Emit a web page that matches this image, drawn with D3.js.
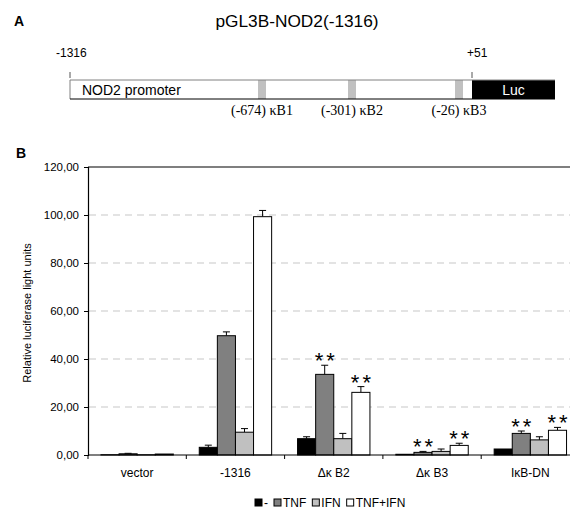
<!DOCTYPE html>
<html>
<head>
<meta charset="utf-8">
<script src="https://cdn.jsdelivr.net/npm/d3@7"></script>
<style>
    body { margin: 0; background: #fff; }
    text { font-family: "Liberation Sans", Arial, sans-serif; fill: #000; }
    .serif { font-family: "Liberation Serif", "Times New Roman", serif; }
</style>
</head>
<body>
<svg id="svg"></svg>
<script>
// Panel B data (relative luciferase light units)
const categories = ["vector", "-1316", "Δκ B2", "Δκ B3", "IκB-DN"];
const treatments = ["-", "TNF", "IFN", "TNF+IFN"];
const valNone = [0.1, 3.2, 6.8, 0.3, 2.5];
const errNone = [0, 0.9, 0.8, 0, 0];
const valTNF = [0.5, 49.7, 33.6, 1.1, 9.0];
const errTNF = [0.2, 1.6, 3.8, 0.4, 1.0];
const valIFN = [0.1, 9.5, 6.8, 1.5, 6.3];
const errIFN = [0, 1.5, 2.2, 1.0, 1.3];
const valBoth = [0.4, 99.3, 26.1, 4.0, 10.3];
const errBoth = [0, 2.6, 2.4, 0.9, 1.2];
// bars marked with ** : [category index, treatment index]
const starred = [[2, 1], [2, 3], [3, 1], [3, 3], [4, 1], [4, 3]];
const yTicks = [0, 20, 40, 60, 80, 100, 120];

// Panel A construct
const constructStart = -1316, constructEnd = 51;
const siteNames = ["κB1", "κB2", "κB3"];
const sitePositions = [-674, -301, -26];

// Svg dimensions
let width = 570, height = 512;
const svg = d3.select("#svg").attr("width", width).attr("height", height);

const fills = ["#000000", "#808080", "#c0c0c0", "#ffffff"];
const values = [valNone, valTNF, valIFN, valBoth];
const errors = [errNone, errTNF, errIFN, errBoth];

// ---------- Panel A ----------
svg.append("text").attr("x", 14).attr("y", 26)
    .attr("font-size", 14).attr("font-weight", "bold").text("A");
svg.append("text").attr("x", 297).attr("y", 27)
    .attr("font-size", 16).attr("text-anchor", "middle")
    .attr("transform", "translate(297,0) scale(1.08,1) translate(-297,0)")
    .text("pGL3B-NOD2(-1316)");

// schematic is not drawn to scale, so a piecewise scale is used
const pos = d3.scaleLinear()
    .domain([constructStart, ...sitePositions, constructEnd])
    .range([70, 258, 348, 455, 472]);
const lucEnd = 555, boxTop = 80, boxBottom = 99;

svg.append("text").attr("x", pos(constructStart) - 14).attr("y", 57)
    .attr("font-size", 12).text(constructStart);
svg.append("text").attr("x", pos(constructEnd) - 5).attr("y", 57)
    .attr("font-size", 12).text("+" + constructEnd);
[constructStart, constructEnd].forEach(p => {
    svg.append("line").attr("x1", pos(p)).attr("x2", pos(p))
        .attr("y1", 72).attr("y2", 78).attr("stroke", "#555");
});

svg.append("rect").attr("x", pos(constructStart)).attr("y", boxTop)
    .attr("width", pos(constructEnd) - pos(constructStart)).attr("height", boxBottom - boxTop)
    .attr("fill", "#fff");
svg.selectAll(".site").data(sitePositions).enter().append("rect")
    .attr("class", "site")
    .attr("x", d => pos(d)).attr("y", boxTop)
    .attr("width", 8).attr("height", boxBottom - boxTop)
    .attr("fill", "#c0c0c0");
svg.append("rect").attr("x", pos(constructEnd)).attr("y", boxTop)
    .attr("width", lucEnd - pos(constructEnd)).attr("height", boxBottom - boxTop)
    .attr("fill", "#000");
svg.append("path")
    .attr("d", `M${pos(constructStart)},${boxBottom}V${boxTop}H${lucEnd}`)
    .attr("fill", "none").attr("stroke", "#808080");
svg.append("line").attr("x1", pos(constructStart)).attr("x2", lucEnd)
    .attr("y1", boxBottom).attr("y2", boxBottom).attr("stroke", "#000");
svg.append("text").attr("x", 82).attr("y", 95).attr("font-size", 14).text("NOD2 promoter");
svg.append("text").attr("x", (pos(constructEnd) + lucEnd) / 2).attr("y", 95)
    .attr("font-size", 14).attr("text-anchor", "middle")
    .style("fill", "#fff").text("Luc");
svg.selectAll(".siteLabel").data(sitePositions).enter().append("text")
    .attr("class", "serif")
    .attr("x", d => pos(d) + 4).attr("y", 115)
    .attr("font-size", 14).attr("text-anchor", "middle")
    .text((d, i) => "(" + d + ") " + siteNames[i]);

// ---------- Panel B ----------
svg.append("text").attr("x", 16).attr("y", 158)
    .attr("font-size", 14).attr("font-weight", "bold").text("B");

const x = d3.scaleBand().domain(categories).range([88, 579.5]).padding(0);
const xSub = d3.scaleBand().domain(treatments).range([0, x.bandwidth()])
    .paddingInner(0).paddingOuter(0.716);
const y = d3.scaleLinear().domain([0, 120]).range([455, 167]);
const fmt = v => d3.format(".2f")(v).replace(".", ",");

// dashed grid
svg.selectAll(".grid").data(yTicks.filter(t => t > 0 && t < 120)).enter().append("line")
    .attr("x1", 89).attr("x2", width)
    .attr("y1", d => y(d)).attr("y2", d => y(d))
    .attr("stroke", "#c8c8c8").attr("stroke-width", 1.2).attr("stroke-dasharray", "7,5");
svg.append("line").attr("x1", 88).attr("x2", width)
    .attr("y1", y(120)).attr("y2", y(120)).attr("stroke", "#000").attr("stroke-width", 1.2);

// y axis
const yAxis = svg.append("g").attr("transform", "translate(88,0)")
    .call(d3.axisLeft(y).tickValues(yTicks).tickFormat(fmt).tickSizeOuter(0).tickSize(4).tickPadding(5));
yAxis.select(".domain").attr("stroke", "#000").attr("stroke-width", 1.2);
yAxis.selectAll("text").attr("font-size", 11.5).style("font-family", '"Liberation Sans", Arial, sans-serif');

svg.append("text")
    .attr("transform", "translate(31,313) rotate(-90)")
    .attr("font-size", 11).attr("text-anchor", "middle")
    .text("Relative luciferase light units");

// bars
const groups = svg.selectAll(".group").data(categories).enter().append("g")
    .attr("class", "group")
    .attr("transform", c => "translate(" + x(c) + ",0)");

groups.each(function (c, ci) {
    const g = d3.select(this);
    treatments.forEach((t, ti) => {
        const v = values[ti][ci], e = errors[ti][ci];
        const cx = xSub(t) + xSub.bandwidth() / 2;
        if (e > 0) {
            g.append("line").attr("x1", cx).attr("x2", cx)
                .attr("y1", y(v)).attr("y2", y(v + e)).attr("stroke", "#000");
            g.append("line").attr("x1", cx - 3.5).attr("x2", cx + 3.5)
                .attr("y1", y(v + e)).attr("y2", y(v + e)).attr("stroke", "#000");
        }
        g.append("rect")
            .attr("x", xSub(t)).attr("width", xSub.bandwidth())
            .attr("y", y(v)).attr("height", y(0) - y(v))
            .attr("fill", fills[ti]).attr("stroke", "#000").attr("stroke-width", 1);
    });
});

// significance stars
starred.forEach(([ci, ti]) => {
    const top = values[ti][ci] + errors[ti][ci];
    svg.append("text")
        .attr("x", x(categories[ci]) + xSub(treatments[ti]) + xSub.bandwidth() / 2 + 1.5)
        .attr("y", y(top) + 3)
        .attr("font-size", 22).attr("text-anchor", "middle")
        .attr("letter-spacing", 3)
        .text("**");
});

// x axis
svg.append("line").attr("x1", 88).attr("x2", width)
    .attr("y1", y(0)).attr("y2", y(0)).attr("stroke", "#000").attr("stroke-width", 1.2);
const xTicks = categories.map(c => x(c)).concat([x.range()[1]]);
svg.selectAll(".xtick").data(xTicks).enter().append("line")
    .attr("x1", d => d).attr("x2", d => d)
    .attr("y1", y(0)).attr("y2", y(0) + 4).attr("stroke", "#000");
svg.selectAll(".xlabel").data(categories).enter().append("text")
    .attr("x", c => x(c) + x.bandwidth() / 2).attr("y", 477)
    .attr("font-size", 12).attr("text-anchor", "middle")
    .text(c => c);

// legend
const legend = svg.append("g").attr("transform", "translate(255,507)");
let lx = 0;
treatments.forEach((t, i) => {
    legend.append("rect").attr("x", lx).attr("y", -8).attr("width", 7).attr("height", 7)
        .attr("fill", fills[i]).attr("stroke", "#000");
    const txt = legend.append("text").attr("x", lx + 9).attr("y", 0)
        .attr("font-size", 12).text(t);
    lx += 9 + txt.node().getComputedTextLength() + 6;
});
</script>
</body>
</html>
